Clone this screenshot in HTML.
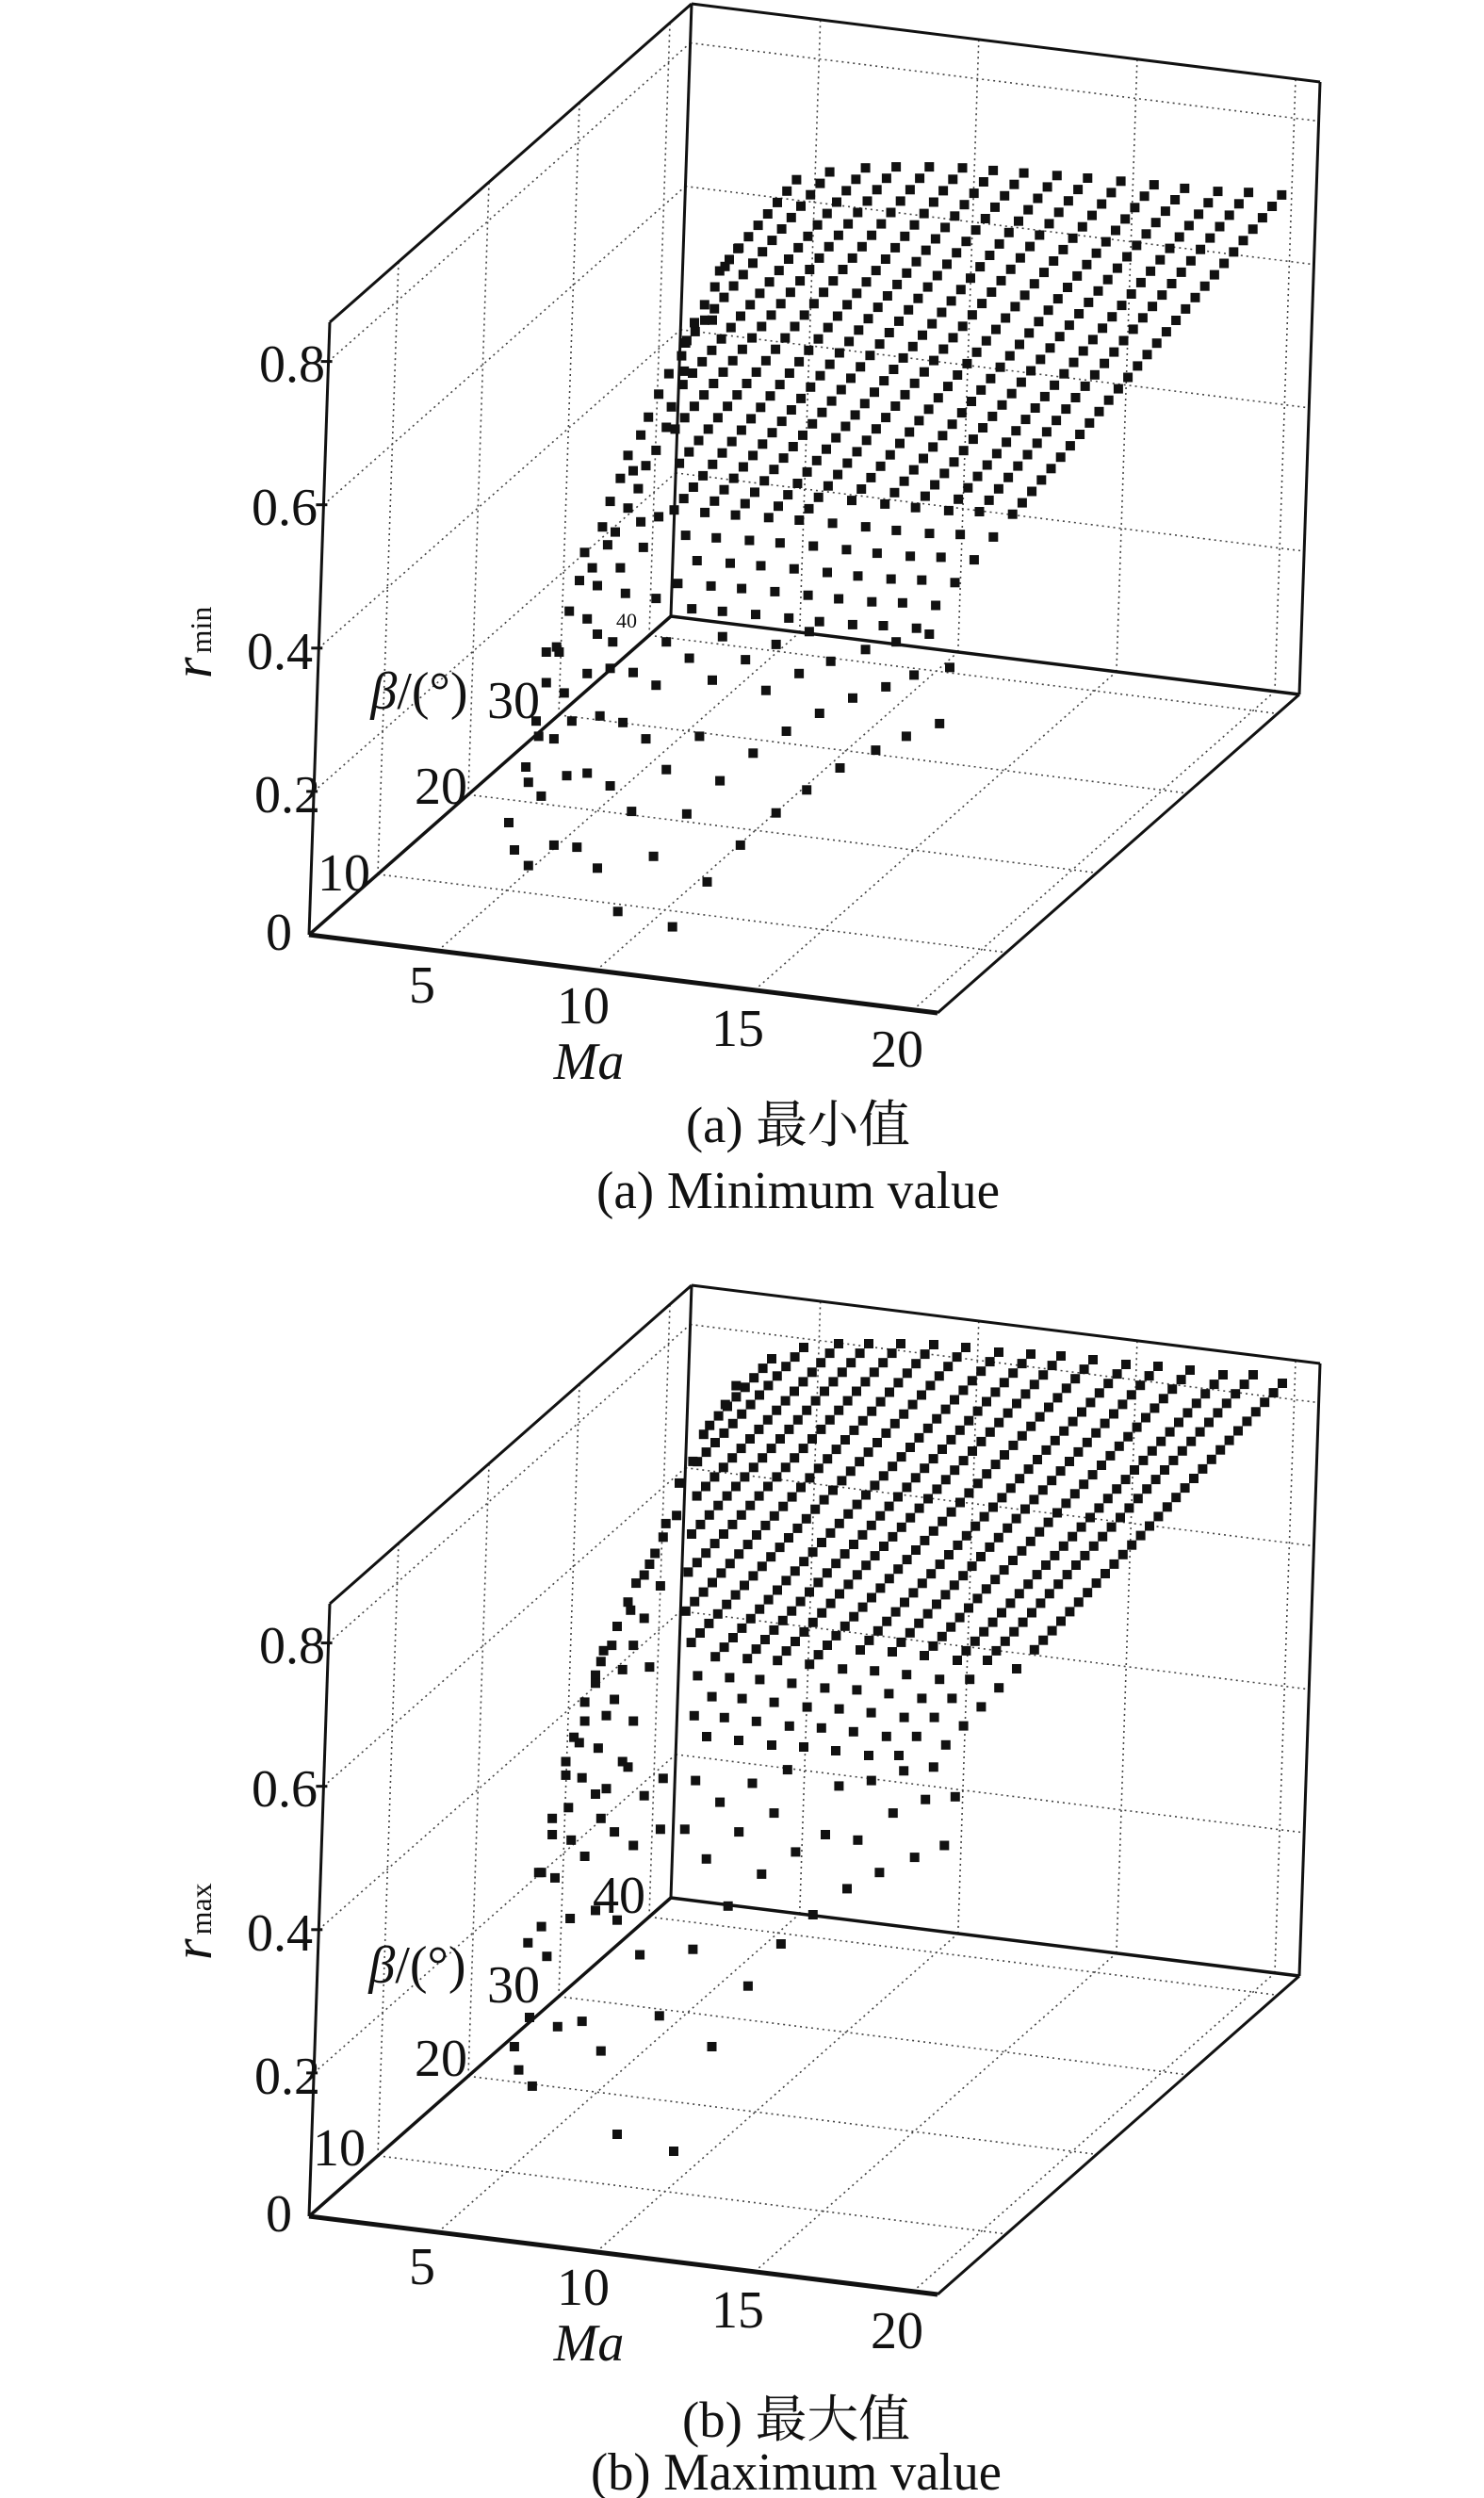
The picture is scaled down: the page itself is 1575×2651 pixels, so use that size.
<!DOCTYPE html>
<html><head><meta charset="utf-8"><style>
html,body{margin:0;padding:0;background:#fff;}
svg{display:block;}
text{font-family:"Liberation Serif","Noto Serif CJK SC",serif;fill:#111;}
</style></head><body>
<svg id="s" xmlns="http://www.w3.org/2000/svg" width="1575" height="2651" viewBox="0 0 1575 2651">
<rect width="1575" height="2651" fill="#fff"/>
<g id="g1"></g>
<g id="g2" transform="translate(0,1360)"></g>
<g id="t1">
<text x="345" y="405" font-size="56" text-anchor="end">0.8</text>
<text x="337" y="557" font-size="56" text-anchor="end">0.6</text>
<text x="332" y="710" font-size="56" text-anchor="end">0.4</text>
<text x="340" y="862" font-size="56" text-anchor="end">0.2</text>
<text x="310" y="1008" font-size="56" text-anchor="end">0</text>
<text transform="translate(224,720) rotate(-90)" font-size="58"><tspan font-style="italic">r</tspan><tspan font-size="32" dx="4">min</tspan></text>
<text x="365" y="945" font-size="56" text-anchor="middle">10</text>
<text x="468" y="853" font-size="56" text-anchor="middle">20</text>
<text x="545" y="762" font-size="56" text-anchor="middle">30</text>
<text x="665" y="666" font-size="22" text-anchor="middle">40</text>
<text x="445" y="752" font-size="56" text-anchor="middle"><tspan font-style="italic">β</tspan>/(°)</text>
<text x="448" y="1064" font-size="56" text-anchor="middle">5</text>
<text x="619" y="1086" font-size="56" text-anchor="middle">10</text>
<text x="783" y="1110" font-size="56" text-anchor="middle">15</text>
<text x="952" y="1132" font-size="56" text-anchor="middle">20</text>
<text x="625" y="1145" font-size="56" text-anchor="middle" font-style="italic">Ma</text>
<text x="728" y="1212" font-size="54" textLength="238" lengthAdjust="spacingAndGlyphs">(a) 最小值</text>
<text x="633" y="1282" font-size="56" textLength="428" lengthAdjust="spacingAndGlyphs">(a) Minimum value</text>
</g>
<g id="t2" transform="translate(0,1360)">
<text x="345" y="405" font-size="56" text-anchor="end">0.8</text>
<text x="337" y="557" font-size="56" text-anchor="end">0.6</text>
<text x="332" y="710" font-size="56" text-anchor="end">0.4</text>
<text x="340" y="862" font-size="56" text-anchor="end">0.2</text>
<text x="310" y="1008" font-size="56" text-anchor="end">0</text>
<text transform="translate(224,720) rotate(-90)" font-size="58"><tspan font-style="italic">r</tspan><tspan font-size="32" dx="4">max</tspan></text>
<text x="360" y="938" font-size="56" text-anchor="middle">10</text>
<text x="468" y="843" font-size="56" text-anchor="middle">20</text>
<text x="545" y="765" font-size="56" text-anchor="middle">30</text>
<text x="657" y="670" font-size="56" text-anchor="middle">40</text>
<text x="443" y="744" font-size="56" text-anchor="middle"><tspan font-style="italic">β</tspan>/(°)</text>
<text x="448" y="1064" font-size="56" text-anchor="middle">5</text>
<text x="619" y="1086" font-size="56" text-anchor="middle">10</text>
<text x="783" y="1110" font-size="56" text-anchor="middle">15</text>
<text x="952" y="1132" font-size="56" text-anchor="middle">20</text>
<text x="625" y="1145" font-size="56" text-anchor="middle" font-style="italic">Ma</text>
<text x="724" y="1226" font-size="54" textLength="242" lengthAdjust="spacingAndGlyphs">(b) 最大值</text>
<text x="627" y="1282" font-size="56" textLength="436" lengthAdjust="spacingAndGlyphs">(b) Maximum value</text>
</g>
</svg>
<script>
(function(){
var O=[328,992],F=[995,1075],B0=[712,654],L1=[350,342];
function P(m,b,r){return [O[0]+m*(F[0]-O[0])+b*(B0[0]-O[0])+r*(L1[0]-O[0]),O[1]+m*(F[1]-O[1])+b*(B0[1]-O[1])+r*(L1[1]-O[1])];}
var MA=[0.205,0.457,0.709,0.961],BE=[0.19,0.44,0.69,0.94],RR=[0.234,0.468,0.702,0.936];
function ln(a,b,st){return '<line x1="'+a[0].toFixed(1)+'" y1="'+a[1].toFixed(1)+'" x2="'+b[0].toFixed(1)+'" y2="'+b[1].toFixed(1)+'" '+st+'/>';}
function frame(){
 var s='',dot='stroke="#444" stroke-width="1.6" stroke-dasharray="2,4" fill="none"';
 MA.forEach(function(m){s+=ln(P(m,1,0),P(m,1,1),dot);s+=ln(P(m,0,0),P(m,1,0),dot);});
 RR.forEach(function(r){s+=ln(P(0,1,r),P(1,1,r),dot);s+=ln(P(0,0,r),P(0,1,r),dot);});
 BE.forEach(function(b){s+=ln(P(0,b,0),P(0,b,1),dot);s+=ln(P(0,b,0),P(1,b,0),dot);});
 var sol='stroke="#111" stroke-width="3" fill="none"';
 s+=ln(P(0,0,0),P(0,0,1),sol);
 s+=ln(P(0,0,1),P(0,1,1),sol);
 s+=ln(P(0,1,1),P(0,1,0),sol);
 s+=ln(P(0,1,1),P(1,1,1),sol);
 s+=ln(P(1,1,1),P(1,1,0),sol);
 s+=ln(P(0,1,0),P(1,1,0),'stroke="#111" stroke-width="3.5"');
 s+=ln(P(1,1,0),P(1,0,0),sol);
 s+=ln(P(0,0,0),P(1,0,0),'stroke="#111" stroke-width="5"');
 s+=ln(P(0,0,0),P(0,1,0),'stroke="#111" stroke-width="3.5"');
 RR.forEach(function(r){var p=P(0,0,r);s+=ln([p[0]-8,p[1]],[p[0]+4,p[1]],'stroke="#111" stroke-width="3"');});
 return s;
}
function inside(poly,p){var c=false;for(var i=0,j=poly.length-1;i<poly.length;j=i++){var a=poly[i],b=poly[j];if(((a[1]>p[1])!=(b[1]>p[1]))&&(p[0]<(b[0]-a[0])*(p[1]-a[1])/(b[1]-a[1])+a[0]))c=!c;}return c;}
function sq(p){return '<rect x="'+(p[0]-5).toFixed(1)+'" y="'+(p[1]-5).toFixed(1)+'" width="10" height="10" fill="#111"/>';}
function dense(tops,d,poly,ycut){var s='';tops.forEach(function(t){for(var k=0;k<60;k++){var p=[t[0]+k*d[0],t[1]+k*d[1]];if(p[1]>ycut&&k%2)continue;if(inside(poly,p))s+=sq(p);}});return s;}
// ---------- top plot
var T3=function(a){return [550+a[0]/1.845,150+a[1]/1.845];};
var tx=[1495,1430,1370,1305,1245,1180,1115,1055,990,930,870,805,740,680,610,545];
var ty=[105,100,98,92,85,78,72,67,62,57,52,50,50,52,60,75];
var tops1=tx.map(function(x,i){return T3([x,ty[i]]);});
var poly1=[[835,180],[880,165],[960,163],[1100,168],[1250,180],[1375,198],[1090,560],[1028,680],[713,658],[716,400],[720,378],[735,335],[757,298],[780,258],[802,225],[812,200]];
var band1=[[430,210],[405,245],[385,285],[365,320],[380,350],[345,355],[320,420],[330,390],[295,455],[325,450],[275,495],[300,520],[255,540],[290,560],[240,575],[270,605],[215,615],[250,635],[225,645],[200,660],[235,680],[180,705],[215,718],[275,735],[165,755],[240,745],[190,765],[130,805],[175,790],[245,795],[145,835],[120,860],[200,835],[155,870],[100,920],[135,935],[210,885],[270,895],[75,990],[185,980],[155,965],[55,1000],[80,1000],[35,1135],[55,1060]];
var sp1=[[290,980],[400,970],[505,985],[570,960],[680,995],[740,980],[805,965],[335,1012],[445,1015],[550,1042],[612,1018],[775,1045],[845,1030],[225,1040],[270,1065],[380,1055],[485,1075],[655,1090],[720,1068],[135,1042],[180,1032],[90,1080],[105,1135],[160,1125],[205,1138],[250,1170],[355,1165],[460,1198],[525,1155],[590,1120],[700,1192],[760,1165],[825,1140],[40,1165],[70,1170],[15,1225],[20,1255],[45,1282],[95,1242],[135,1237],[180,1262],[290,1230],[395,1252],[565,1270],[630,1227],[222,1312],[330,1317],[505,1315],[70,1378],[115,1382],[20,1418],[155,1423],[265,1400],[435,1378],[370,1450],[195,1508],[302,1538]];
var s1=frame()+dense(tops1,[-10.2,12.1],poly1,540);
band1.concat(sp1).forEach(function(a){s1+=sq(T3(a));});
[[540,873],[546,902]].forEach(function(p){s1+=sq(p);});
document.getElementById('g1').innerHTML=s1;
// ---------- bottom plot (frame coords = top frame)
var B5=function(a){return [500+a[0]/1.742,-10+a[1]/1.742];};
var tops2=[[1361,108],[1330,99],[1298,99],[1263,94],[1229,90],[1195,88],[1160,83],[1126,79],[1094,77],[1060,75],[1025,70],[991,67],[956,66],[922,66],[890,66],[853,70],[819,82]];
var poly2=[[812,74],[850,58],[950,54],[1100,66],[1250,80],[1375,100],[1100,398],[1030,503],[900,510],[725,492],[725,300],[735,185],[750,155],[772,125],[785,104]];
var band2=[[470,245],[490,210],[430,300],[410,350],[385,390],[380,450],[355,490],[330,540],[305,575],[290,610],[270,655],[245,700],[230,745],[210,795],[190,860],[175,930],[150,1010],[130,1110],[360,465],[340,520],[320,560],[350,580],[295,625],[320,640],[260,690],[300,690],[240,720],[280,735],[330,730],[230,760],[265,790],[210,830],[250,820],[300,830],[200,870],[235,880],[280,905],[175,905],[205,935],[230,965],[150,1040],[185,1050],[210,1080],[300,1060],[125,1110],[155,1120],[350,1030],[180,990],[250,955],[290,915],[320,968],[355,936],[265,1035],[240,1010]];
var sp2=[[415,940],[520,945],[585,920],[680,950],[740,940],[800,922],[855,915],[895,970],[460,980],[560,1000],[655,1040],[715,1050],[780,1000],[840,975],[395,1030],[495,1035],[600,1072],[875,1060],[820,1082],[435,1085],[537,1113],[755,1110],[695,1140],[475,1172],[632,1188],[312,1262],[410,1252],[573,1242],[512,1320],[348,1375],[160,1395],[205,1385],[108,1378],[80,1432],[240,1440],[445,1432],[88,1475],[113,1505],[270,1198],[183,1195],[230,1180],[130,1210],[105,1240],[140,1265]];
var s2=frame()+dense(tops2,[-9.4,10.1],poly2,400);
band2.concat(sp2).forEach(function(a){s2+=sq(B5(a));});
[[655,905],[715,923]].forEach(function(p){s2+=sq(p);});
document.getElementById('g2').innerHTML=s2;
})();
</script>
</body></html>
